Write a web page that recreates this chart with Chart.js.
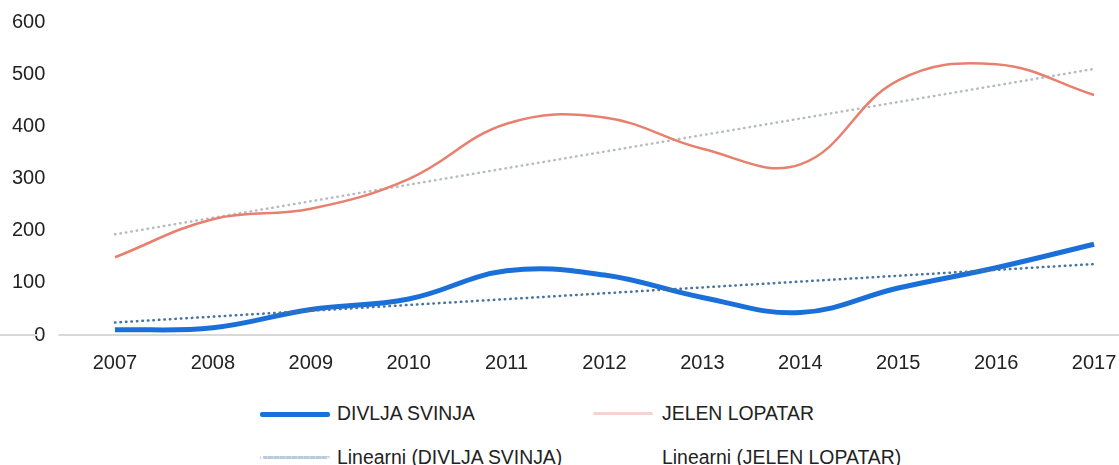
<!DOCTYPE html>
<html>
<head>
<meta charset="utf-8">
<script src="https://cdn.jsdelivr.net/npm/chart.js@4"></script>
<style>
  body { margin: 0; background: #fff; overflow: hidden; }
  #wrap { position: absolute; left: 0; top: 0; width: 1119px; height: 391px; }
  .item { position: absolute; height: 24px; font: 19.4px "Liberation Sans", Arial, sans-serif; color: #222; }
  .item .sample { position: absolute; top: 11px; height: 0; }
  .item .txt { position: absolute; top: 0; line-height: 24px; white-space: nowrap; }
</style>
</head>
<body>
<div id="wrap"><canvas id="chart_wrap"></canvas></div>
<div id="legend"></div>
<script>
// godine (kategorije)
const years = [2007, 2008, 2009, 2010, 2011, 2012, 2013, 2014, 2015, 2016, 2017];
const divljaSvinja = [10, 14, 49, 69, 123, 115, 72, 43, 90, 129, 174];
const jelenLopatar = [149, 222, 242, 299, 405, 417, 357, 327, 488, 519, 460];

// linearni trend - krajnje tocke ocitane sa slike
const trendYears = [2007, 2017];
const trendSvinja = [24, 136];
const trendJelen = [193, 510];

const yMin = 0;
const yMax = 600;
const yStep = 100;

const toPoints = (xs, ys) => xs.map((x, i) => ({ x: x, y: ys[i] }));

// siva linija na nuli preko cijele sirine
const zeroLine = {
  id: 'zeroLine',
  beforeDatasetsDraw(chart) {
    const y = chart.scales.y.getPixelForValue(0);
    const ys = chart.scales.y;
    const labelRight = ys.right - ys.options.ticks.padding;
    const ctx = chart.ctx;
    ctx.save();
    ctx.strokeStyle = '#d9d9d9';
    ctx.lineWidth = 2;
    ctx.beginPath();
    ctx.moveTo(0, y);
    ctx.lineTo(labelRight - 16, y);
    ctx.moveTo(labelRight + 5, y);
    ctx.lineTo(chart.width, y);
    ctx.stroke();
    ctx.restore();
  }
};

function drawChart() {
  const ctx = document.getElementById('chart_wrap').getContext('2d');
  window.myChart = new Chart(ctx, {
    type: 'line',
    data: {
      datasets: [
        {
          label: 'DIVLJA SVINJA',
          data: toPoints(years, divljaSvinja),
          borderColor: '#1a6fd8',
          borderWidth: 5,
          tension: 0.4,
          pointRadius: 0,
          order: 1,
        },
        {
          label: 'JELEN LOPATAR',
          data: toPoints(years, jelenLopatar),
          borderColor: '#e8806f',
          borderWidth: 2.5,
          tension: 0.4,
          pointRadius: 0,
          legendColor: '#f6d3ce',
          order: 2,
        },
        {
          label: 'Linearni (DIVLJA SVINJA)',
          data: toPoints(trendYears, trendSvinja),
          borderColor: '#47739f',
          borderWidth: 2.5,
          borderDash: [0.5, 5],
          borderCapStyle: 'round',
          pointRadius: 0,
          legendColor: '#b9cadb',
          order: 0,
        },
        {
          label: 'Linearni (JELEN LOPATAR)',
          data: toPoints(trendYears, trendJelen),
          borderColor: '#b6bbc3',
          borderWidth: 2.5,
          borderDash: [0.5, 5],
          borderCapStyle: 'round',
          pointRadius: 0,
          legendColor: 'rgba(0,0,0,0)',
          order: 3,
        },
      ],
    },
    options: {
      responsive: true,
      maintainAspectRatio: false,
      animation: false,
      layout: { padding: { left: 2, top: 14, right: 0, bottom: 8 } },
      plugins: {
        legend: { display: false },
        tooltip: { enabled: false },
      },
      scales: {
        x: {
          type: 'linear',
          min: 2006.473,
          max: 2017.255,
          grid: { display: false },
          border: { display: false },
          // zadnja godina smije ici skroz do ruba
          afterFit: scale => { scale.paddingRight = 0; },
          ticks: {
            stepSize: 1,
            includeBounds: false,
            padding: 8,
            color: '#222',
            font: { family: '"Liberation Sans", Arial, sans-serif', size: 20 },
            callback: v => String(v),
          },
        },
        y: {
          min: yMin,
          max: yMax,
          grid: { display: false },
          border: { display: false },
          ticks: {
            stepSize: yStep,
            padding: 10,
            color: '#222',
            font: { family: '"Liberation Sans", Arial, sans-serif', size: 20 },
          },
        },
      },
    },
    plugins: [zeroLine],
  });
  buildLegend(window.myChart);
}

// legenda u dva stupca kao na originalu
function buildLegend(chart) {
  const legend = document.getElementById('legend');
  legend.innerHTML = '';
  const cols = [{ s: 260, w: 70, t: 337 }, { s: 593, w: 60, t: 662 }];
  const rows = [401, 445];
  chart.data.datasets.forEach((ds, i) => {
    const c = cols[i % 2];
    const item = document.createElement('div');
    item.className = 'item';
    item.style.left = '0px';
    item.style.top = rows[Math.floor(i / 2)] + 'px';
    const dotted = ds.borderDash && ds.borderDash.length;
    const color = ds.legendColor || ds.borderColor;
    item.innerHTML = `
      <span class="sample" style="left:${c.s}px;width:${c.w}px;border-top:${dotted ? 3 : Math.max(ds.borderWidth, 3)}px ${dotted ? 'dotted' : 'solid'} ${color};border-radius:2px"></span>
      <span class="txt" style="left:${c.t}px">${ds.label}</span>
    `;
    legend.appendChild(item);
  });
}

document.addEventListener('DOMContentLoaded', () => {
  drawChart();
});
</script>
</body>
</html>
